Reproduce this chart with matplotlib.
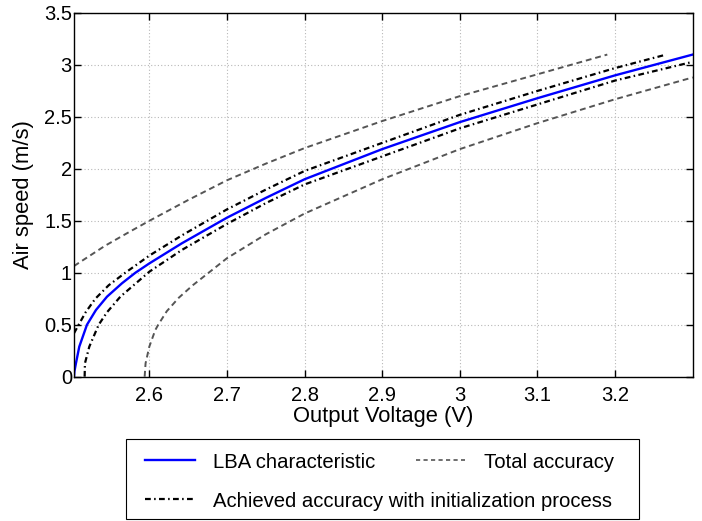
import matplotlib
matplotlib.use("Agg")
import matplotlib.pyplot as plt
from matplotlib.ticker import FuncFormatter
from matplotlib.lines import Line2D
from matplotlib.patches import Rectangle

plt.rcParams['font.family'] = ['Liberation Sans', 'DejaVu Sans']

# LBA characteristic (blue)
lba_x = [2.503, 2.5035, 2.5055, 2.5098, 2.5197, 2.5313, 2.5455, 2.5648, 2.582, 2.6,
         2.642, 2.7, 2.75, 2.8, 2.9, 3.0, 3.1, 3.2, 3.30]
lba_y = [0.0, 0.05, 0.129, 0.289, 0.5, 0.642, 0.77, 0.899, 1.0, 1.09,
         1.284, 1.53, 1.72, 1.90, 2.19, 2.45, 2.68, 2.90, 3.10]

# Achieved accuracy with initialization process (upper / lower)
acc_up_x = [2.503, 2.509, 2.518, 2.5304, 2.5477, 2.569, 2.6, 2.642, 2.7, 2.75, 2.8,
            2.9, 3.0, 3.1, 3.2, 3.266]
acc_up_y = [0.418, 0.5, 0.62, 0.75, 0.88, 1.0, 1.165, 1.36, 1.61, 1.80, 1.98,
            2.25, 2.52, 2.75, 2.97, 3.10]
acc_lo_x = [2.5167, 2.5171, 2.5227, 2.5348, 2.5455, 2.5627, 2.6, 2.642, 2.7, 2.75, 2.8,
            2.9, 3.0, 3.1, 3.2, 3.30]
acc_lo_y = [0.0, 0.129, 0.289, 0.5, 0.62, 0.77, 1.01, 1.22, 1.47, 1.67, 1.85,
            2.12, 2.39, 2.62, 2.85, 3.03]

# Total accuracy (upper / lower)
tot_up_x = [2.503, 2.543, 2.5735, 2.6, 2.65, 2.7, 2.75, 2.8, 2.9, 3.0, 3.1, 3.19]
tot_up_y = [1.065, 1.26, 1.39, 1.50, 1.70, 1.89, 2.05, 2.20, 2.46, 2.70, 2.91, 3.10]
tot_lo_x = [2.594, 2.5952, 2.6, 2.6077, 2.6115, 2.6225, 2.638, 2.656, 2.673, 2.7, 2.75,
            2.8, 2.9, 3.0, 3.1, 3.2, 3.30]
tot_lo_y = [0.0, 0.129, 0.289, 0.449, 0.5, 0.63, 0.76, 0.88, 0.98, 1.14, 1.37,
            1.57, 1.90, 2.19, 2.44, 2.67, 2.88]

xticks = [2.6, 2.7, 2.8, 2.9, 3.0, 3.1, 3.2]
yticks = [0, 0.5, 1, 1.5, 2, 2.5, 3, 3.5]
labels = ['LBA characteristic', 'Total accuracy',
          'Achieved accuracy with initialization process']

W, H = 702, 521
fig = plt.figure(figsize=(W / 100, H / 100), dpi=100)
ax = fig.add_axes([74 / W, 1 - 376.7 / H, (692.7 - 74) / W, (376.7 - 13) / H])

gray = '#555555'
blue_style = dict(color='#0000ff', lw=1.7, linestyle='-')
dd_style = dict(color='black', lw=1.6, linestyle=(0, (2.6, 1.5, 0.7, 1.5)))
dash_style = dict(color=gray, lw=1.4, linestyle=(0, (3.0, 2.0)))

ax.plot(lba_x, lba_y, **blue_style)
ax.plot(acc_up_x, acc_up_y, **dd_style)
ax.plot(acc_lo_x, acc_lo_y, **dd_style)
ax.plot(tot_up_x, tot_up_y, **dash_style)
ax.plot(tot_lo_x, tot_lo_y, **dash_style)

ax.set_xlim(2.503, 3.30)
ax.set_ylim(0, 3.5)
ax.set_xticks(xticks)
ax.set_yticks(yticks)
ax.xaxis.set_major_formatter(FuncFormatter(lambda v, p: f"{v:g}"))
ax.yaxis.set_major_formatter(FuncFormatter(lambda v, p: f"{v:g}"))
ax.tick_params(direction='in', top=True, right=True, labelsize=14.5, length=5, width=1)
ax.tick_params(axis='x', pad=6.5)
ax.tick_params(axis='y', pad=1.5)
ax.grid(True, color='#b8b8b8', linestyle=(0, (1, 2)), lw=0.8)
for s in ax.spines.values():
    s.set_linewidth(1.0)

ax.set_xlabel('Output Voltage (V)', fontsize=15.8, labelpad=1)
ax.set_ylabel('Air speed (m/s)', fontsize=15.8, labelpad=7)

# legend box (custom layout like the reference)
def fx(px):
    return px / W

def fy(py):
    return 1 - py / H

fig.patches.append(Rectangle((fx(125.7), fy(519)), fx(639) - fx(125.7), fy(439) - fy(519),
                             transform=fig.transFigure, fill=True, facecolor='white',
                             edgecolor='black', lw=0.8))
fs_leg = 14.6
fig.add_artist(Line2D([fx(145), fx(195)], [fy(460), fy(460)], transform=fig.transFigure, **blue_style))
fig.text(fx(213), fy(468), labels[0], fontsize=fs_leg, va='baseline', ha='left')
fig.add_artist(Line2D([fx(416), fx(465)], [fy(460), fy(460)], transform=fig.transFigure,
                      color=gray, lw=1.2, linestyle=(0, (2.5, 2.0))))
fig.text(fx(484), fy(468), labels[1], fontsize=fs_leg, va='baseline', ha='left')
fig.add_artist(Line2D([fx(145), fx(195)], [fy(499), fy(499)], transform=fig.transFigure, **dd_style))
fig.text(fx(213), fy(506.7), labels[2], fontsize=fs_leg, va='baseline', ha='left')

fig.savefig('out.png', dpi=100)
